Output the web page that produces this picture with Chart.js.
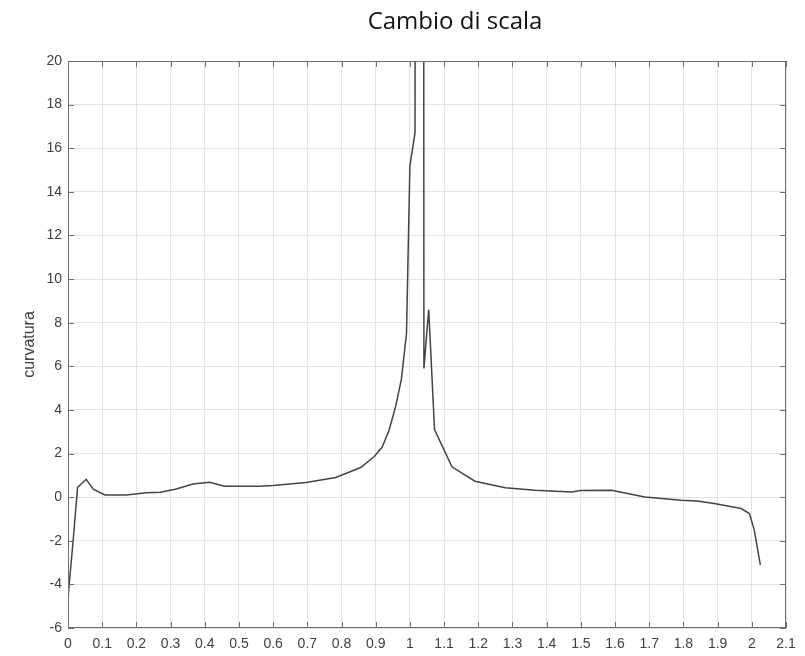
<!DOCTYPE html>
<html>
<head>
<meta charset="utf-8">
<script src="https://cdn.jsdelivr.net/npm/chart.js@4/dist/chart.umd.min.js"></script>
<style>
  body { margin: 0; background: #fff; }
  #wrap { width: 805px; height: 656px; position: relative; }
</style>
</head>
<body>
<div id="wrap"><canvas id="myChart"></canvas></div>
<script>
// values
const xValues = [0, 0.015, 0.028, 0.053, 0.074, 0.108, 0.17, 0.23, 0.27, 0.317, 0.365, 0.414, 0.458, 0.56, 0.6,
  0.696, 0.783, 0.856, 0.895, 0.919, 0.939, 0.958, 0.975, 0.99, 1.0, 1.015, 1.028, 1.041, 1.055, 1.072,
  1.123, 1.19, 1.279, 1.366, 1.473, 1.5, 1.59, 1.687, 1.794, 1.84, 1.89, 1.969, 1.993, 2.007, 2.025];
const yValues = [-4.6, -2.0, 0.45, 0.82, 0.37, 0.1, 0.1, 0.2, 0.22, 0.37, 0.6, 0.68, 0.5, 0.5, 0.54,
  0.67, 0.9, 1.36, 1.85, 2.3, 3.07, 4.14, 5.4, 7.5, 15.2, 16.7, 400, 5.9, 8.6, 3.1,
  1.39, 0.73, 0.43, 0.32, 0.24, 0.3, 0.32, 0.01, -0.14, -0.18, -0.29, -0.52, -0.75, -1.5, -3.1];
const xTicks = [0, 0.1, 0.2, 0.3, 0.4, 0.5, 0.6, 0.7, 0.8, 0.9, 1, 1.1, 1.2, 1.3, 1.4, 1.5, 1.6, 1.7, 1.8, 1.9, 2, 2.1];
const yTicks = [-6, -4, -2, 0, 2, 4, 6, 8, 10, 12, 14, 16, 18, 20];
const titleText = "Cambio di scala";
const yTitle = "curvatura";

var points = [];
for (var i = 0; i < xValues.length; i++) {
  points.push({x: xValues[i], y: yValues[i]});
}

// matlab style box with inward ticks on all four sides + title
const boxPlugin = {
  id: "box",
  afterDraw(chart) {
    var ctx = chart.ctx;
    var a = chart.chartArea;
    var xs = chart.scales.x, ys = chart.scales.y;
    ctx.save();
    ctx.strokeStyle = "#6e6e6e";
    ctx.lineWidth = 1;
    ctx.strokeRect(a.left + 0.5, a.top + 0.5, a.right - a.left - 1, a.bottom - a.top - 1);
    ctx.beginPath();
    xTicks.forEach(function (v) {
      var px = Math.round(xs.getPixelForValue(v)) + 0.5;
      ctx.moveTo(px, a.bottom); ctx.lineTo(px, a.bottom - 6);
      ctx.moveTo(px, a.top); ctx.lineTo(px, a.top + 6);
    });
    yTicks.forEach(function (v) {
      var py = Math.round(ys.getPixelForValue(v)) + 0.5;
      ctx.moveTo(a.left, py); ctx.lineTo(a.left + 6, py);
      ctx.moveTo(a.right, py); ctx.lineTo(a.right - 6, py);
    });
    ctx.stroke();
    ctx.fillStyle = "#111";
    ctx.font = "24px 'Open Sans'";
    ctx.textAlign = "center";
    ctx.textBaseline = "middle";
    ctx.fillText(titleText, 455, 22);
    ctx.restore();
  }
};

new Chart("myChart", {
  type: "scatter",
  data: {
    datasets: [{
      data: points,
      showLine: true,
      borderColor: "#444444",
      borderWidth: 1.5,
      pointRadius: 0,
      tension: 0
    }]
  },
  options: {
    responsive: true,
    maintainAspectRatio: false,
    animation: false,
    layout: { padding: { top: 61, right: 19, left: 0, bottom: 0 } },
    plugins: { legend: { display: false }, tooltip: { enabled: false } },
    scales: {
      x: {
        type: "linear",
        min: 0, max: 2.1,
        afterBuildTicks: function (scale) { scale.ticks = xTicks.map(function (v) { return {value: v}; }); },
        afterFit: function (scale) { scale.height = 28; },
        grid: { color: "#e3e3e3", drawTicks: false },
        border: { display: false },
        ticks: {
          padding: 8,
          color: "#404040",
          font: { family: "'Liberation Sans'", size: 14 },
          maxRotation: 0,
          autoSkip: false,
          callback: function (v) { return String(Number(v.toFixed(1))); }
        }
      },
      y: {
        min: -6, max: 20,
        afterBuildTicks: function (scale) { scale.ticks = yTicks.map(function (v) { return {value: v}; }); },
        afterFit: function (scale) { scale.width = 68; },
        grid: { color: "#e3e3e3", drawTicks: false },
        border: { display: false },
        ticks: {
          padding: 6,
          color: "#404040",
          font: { family: "'Liberation Sans'", size: 14 }
        },
        title: {
          display: true,
          text: yTitle,
          color: "#404040",
          font: { family: "'Liberation Sans'", size: 16 },
          padding: { top: 20, bottom: 0 }
        }
      }
    }
  },
  plugins: [boxPlugin]
});
</script>
</body>
</html>
